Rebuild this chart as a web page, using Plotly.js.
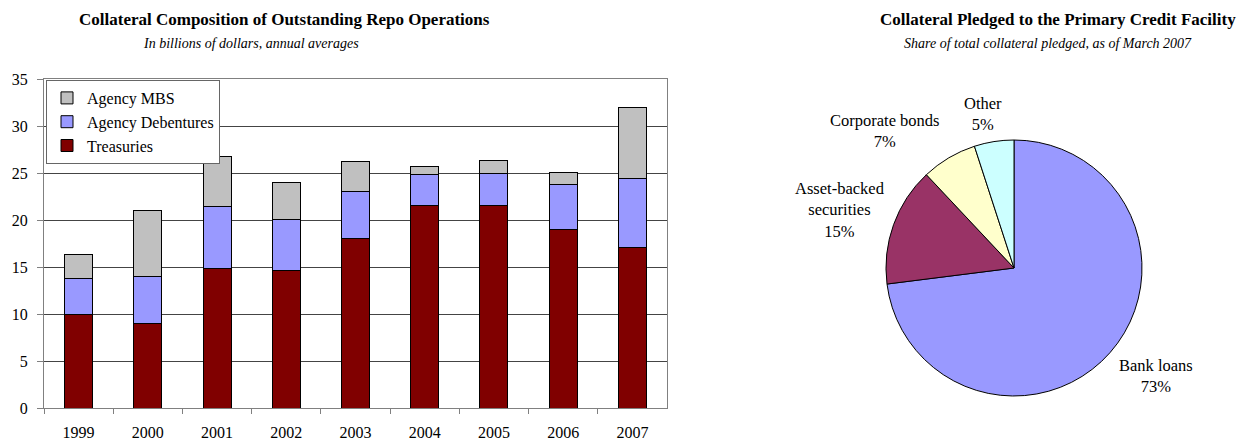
<!DOCTYPE html>
<html>
<head>
<meta charset="utf-8">
<script src="https://cdn.plot.ly/plotly-3.0.1.min.js"></script>
<style>html,body{margin:0;padding:0;background:#fff;}#chart{width:1246px;height:443px;}</style>
</head>
<body>
<div id="chart"></div>
<script>
// Bar chart data (billions of dollars, annual averages)
const years = ["1999", "2000", "2001", "2002", "2003", "2004", "2005", "2006", "2007"];
const treasuries = [10, 9, 14.8, 14.6, 18, 21.5, 21.5, 19, 17.1];
const agencyDebentures = [3.8, 5, 6.6, 5.5, 5, 3.3, 3.5, 4.8, 7.3];
const agencyMBS = [2.5, 7, 5.4, 3.9, 3.2, 0.9, 1.3, 1.3, 7.6];
const yTicks = [0, 5, 10, 15, 20, 25, 30, 35];

// Pie chart data (share of total collateral pledged, March 2007)
const pieLabels = ["Bank loans", "Asset-backed<br>securities", "Corporate bonds", "Other"];
const pieValues = [73, 15, 7, 5];
const pieColors = ["#9999FF", "#993366", "#FFFFCC", "#CCFFFF"];

const W = 1246, H = 443;
const px = x => x / W;
const py = y => 1 - y / H;
const serif = "Liberation Serif, Times New Roman, serif";

const barLine = {color: "#000000", width: 1};
const traces = [
  {type: "bar", name: "Treasuries", x: years, y: treasuries,
   marker: {color: "#800000", line: barLine}, xaxis: "x", yaxis: "y"},
  {type: "bar", name: "Agency Debentures", x: years, y: agencyDebentures,
   marker: {color: "#9999FF", line: barLine}, xaxis: "x", yaxis: "y"},
  {type: "bar", name: "Agency MBS", x: years, y: agencyMBS,
   marker: {color: "#C0C0C0", line: barLine}, xaxis: "x", yaxis: "y"},
  {type: "pie", labels: pieLabels, values: pieValues, sort: false,
   direction: "clockwise", rotation: 0, showlegend: false,
   marker: {colors: pieColors, line: {color: "#000000", width: 1}},
   textinfo: "none",
   hoverinfo: "label+percent",
   domain: {x: [px(886), px(1142)], y: [py(396), py(140)]}}
];

// Label placement for the pie (layout only), in pixel coordinates of the page
const pieLabelPlacement = [[1156, 376], [840, 210], [885, 131], [983, 114]];
const pieAnnotations = pieLabels.map((lab, i) => ({
  text: lab + "<br>" + pieValues[i] + "%",
  x: px(pieLabelPlacement[i][0]), y: py(pieLabelPlacement[i][1]),
  xref: "paper", yref: "paper", showarrow: false,
  xanchor: "center", yanchor: "middle", align: "center",
  font: {family: serif, size: 16.5, color: "#000"}
}));

const layout = {
  width: W, height: H,
  margin: {l: 0, r: 0, t: 0, b: 0},
  paper_bgcolor: "#ffffff", plot_bgcolor: "#ffffff",
  font: {family: serif, size: 16, color: "#000"},
  barmode: "stack",
  bargap: 0.595,
  showlegend: true,
  legend: {
    x: px(46), y: py(80), xanchor: "left", yanchor: "top",
    traceorder: "reversed",
    bgcolor: "#ffffff", bordercolor: "#666666", borderwidth: 1,
    font: {family: serif, size: 16, color: "#000"},
    tracegroupgap: 0, itemwidth: 30
  },
  xaxis: {
    domain: [px(44), px(667)],
    type: "category",
    showgrid: false,
    showline: true, linecolor: "#808080", linewidth: 1, mirror: true,
    ticks: "outside", ticklen: 5, tickcolor: "#808080", tickson: "boundaries",
    ticklabelstandoff: 10,
    tickfont: {family: serif, size: 16, color: "#000"},
    zeroline: false, fixedrange: true
  },
  yaxis: {
    domain: [py(408), py(79)],
    range: [0, 35],
    tickvals: yTicks,
    showgrid: true, gridcolor: "#444444", gridwidth: 1,
    showline: true, linecolor: "#808080", linewidth: 1, mirror: true,
    ticks: "outside", ticklen: 6, tickcolor: "#808080",
    ticklabelstandoff: 6,
    tickfont: {family: serif, size: 16, color: "#000"},
    zeroline: false, fixedrange: true
  },
  annotations: [
    {text: "<b>Collateral Composition of Outstanding Repo Operations</b>",
     x: px(284), y: py(20), xref: "paper", yref: "paper", showarrow: false,
     xanchor: "center", yanchor: "middle", font: {family: serif, size: 17, color: "#000"}},
    {text: "<i>In billions of dollars, annual averages</i>",
     x: px(251), y: py(43), xref: "paper", yref: "paper", showarrow: false,
     xanchor: "center", yanchor: "middle", font: {family: serif, size: 14, color: "#000"}},
    {text: "<b>Collateral Pledged to the Primary Credit Facility</b>",
     x: px(1058), y: py(20), xref: "paper", yref: "paper", showarrow: false,
     xanchor: "center", yanchor: "middle", font: {family: serif, size: 17, color: "#000"}},
    {text: "<i>Share of total collateral pledged, as of March 2007</i>",
     x: px(1048), y: py(43), xref: "paper", yref: "paper", showarrow: false,
     xanchor: "center", yanchor: "middle", font: {family: serif, size: 14, color: "#000"}}
  ].concat(pieAnnotations)
};

Plotly.newPlot("chart", traces, layout, {displayModeBar: false, staticPlot: true});
</script>
</body>
</html>
